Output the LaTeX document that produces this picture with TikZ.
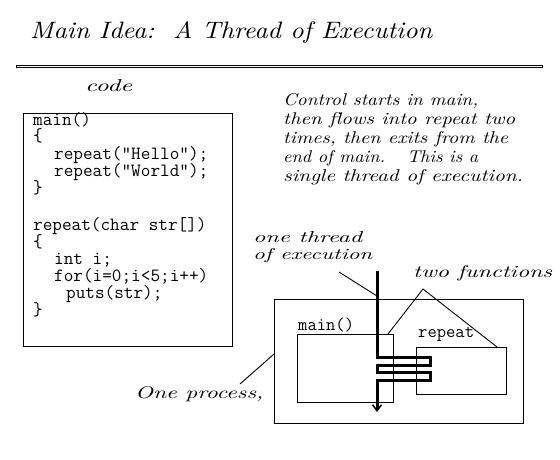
\documentclass[tikz,border=0pt]{standalone}
\usepackage{fontspec}
\usepackage{graphicx}
\usetikzlibrary{arrows.meta}

% handwritten-style label: target width and height (pt), italic text
\newcommand{\hw}[3]{\resizebox{#1pt}{#2pt}{\itshape #3}}

\begin{document}
\begin{tikzpicture}[x=1pt,y=-1pt,
  hand/.style={inner sep=0pt, anchor=base west},
  src/.style={inner sep=0pt, anchor=base west, font=\fontsize{18.7}{17}\selectfont\ttfamily},
  fname/.style={inner sep=0pt, anchor=base west, font=\fontsize{18.1}{17}\selectfont\ttfamily},
  frame/.style={draw, line width=1pt, inner sep=0pt, anchor=north west},
  lead/.style={line width=0.9pt},
  thread/.style={line width=3pt, line join=miter,
    -{Straight Barb[length=6pt,width=9pt,line width'=1.5pt]}}]
\fill[white] (0,0) rectangle (560,460);
\useasboundingbox (0,0) rectangle (560,460);

% heading and its double rule
\node[hand] (title) at (30,39) {\hw{402}{17}{Main Idea:\ \ A Thread of Execution}};
\draw[line width=1pt] (16,65.5) rectangle (542,67.5);

% source listing
\node[hand] (codelbl) at (85,92) {\hw{47}{12}{code}};
\node[frame, minimum width=209pt, minimum height=233pt] (codebox) at (23,113) {};
\node[src] (c1) at (33,125) {main()};
\node[src] (c2) at (33,142) {\{};
\node[src] (c3) at (54,159) {repeat("Hello");};
\node[src] (c4) at (54,176) {repeat("World");};
\node[src] (c5) at (33,193) {\}};
\node[src] (c6) at (33,230) {repeat(char str[])};
\node[src] (c7) at (33,247) {\{};
\node[src] (c8) at (54,264) {int i;};
\node[src] (c9) at (54,281) {for(i=0;i<5;i++)};
\node[src] (c10) at (66,298) {puts(str);};
\node[src] (c11) at (33,315) {\}};

% explanation
\node[hand] (p1) at (283,105) {\hw{195}{12}{Control starts in main,}};
\node[hand] (p2) at (283,124) {\hw{232}{12}{then flows into repeat two}};
\node[hand] (p3) at (283,143) {\hw{225}{12}{times, then exits from the}};
\node[hand] (p4) at (283,162) {\hw{195}{12}{end of main.\hspace{1.2em}This is a}};
\node[hand] (p5) at (283,181) {\hw{240}{12}{single thread of execution.}};

% process with its two functions
\node[frame, minimum width=249pt, minimum height=124pt] (proc) at (274,299) {};
\node[frame, minimum width=96pt, minimum height=68pt] (mainbox) at (297,334) {};
\node[frame, minimum width=90pt, minimum height=47pt] (repbox) at (416,347) {};
\node[fname] (mainlbl) at (298,330) {main()};
\node[fname] (replbl) at (418,337) {repeat};

% labels and their pointers
\node[hand] (ot1) at (253,242) {\hw{109}{11}{one thread}};
\node[hand] (ot2) at (253,259) {\hw{119}{11}{of execution}};
\node[hand] (twof) at (413,277) {\hw{139}{12}{two functions}};
\node[hand] (oneproc) at (135,398) {\hw{128}{12}{One process,}};

\coordinate (otA) at (339,272);
\coordinate (otB) at (377,296);
\coordinate (tfA) at (423,289);
\coordinate (tfB) at (388,334);
\coordinate (tfC) at (497,347);
\coordinate (opA) at (240,384);
\coordinate (opB) at (274,354);
\draw[lead] (otA) -- (otB);
\draw[lead] (tfB) -- (tfA) -- (tfC);
\draw[lead] (opA) -- (opB);

% the thread of execution, calling repeat twice
\coordinate (tstart) at (377,271);
\coordinate (tend) at (377,412);
\draw[thread] (tstart) |- (430,357) |- (377,365) |- (430,372) |- (377,380) -- (tend);
\end{tikzpicture}
\end{document}
